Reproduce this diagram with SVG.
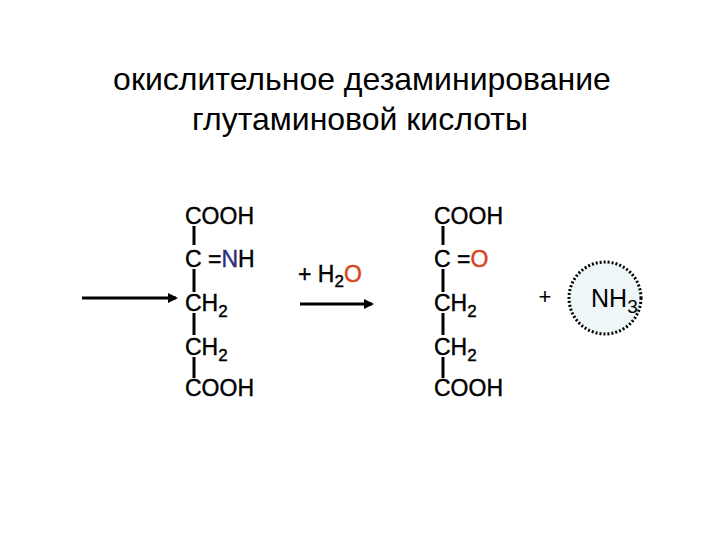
<svg xmlns="http://www.w3.org/2000/svg" width="720" height="540" viewBox="0 0 720 540">
<defs>
<style>
text{font-family:"Liberation Sans",Arial,sans-serif;fill:#000}
.t{font-size:32px}
.f{font-size:23px;stroke:#000;stroke-width:0.4}
.s{font-size:17px}
.b{stroke:#000;stroke-width:3}
</style>
<marker id="a" markerWidth="10" markerHeight="10" refX="8" refY="5" orient="auto" markerUnits="userSpaceOnUse"><path d="M0,0 L10,5 L0,10Z" fill="#000"/></marker>
</defs>
<rect width="720" height="540" fill="#fff"/>
<g id="title">
<text class="t" x="362" y="90" text-anchor="middle">окислительное дезаминирование</text>
<text class="t" x="360" y="130" text-anchor="middle">глутаминовой кислоты</text>
</g>
<g id="left">
<text class="f" x="185" y="224">COOH</text>
<text class="f" x="185" y="267">C =<tspan fill="#2b2f7e" stroke="#2b2f7e">N</tspan>H</text>
<text class="f" x="185" y="311">CH<tspan class="s" dy="6">2</tspan></text>
<text class="f" x="185" y="355">CH<tspan class="s" dy="6">2</tspan></text>
<text class="f" x="185" y="396">COOH</text>
<path class="b" d="M194 226V245M194 269V292M194 313V335M194 357V378"/>
</g>
<g id="right">
<text class="f" x="434" y="224">COOH</text>
<text class="f" x="434" y="267">C =<tspan fill="#d9421c" stroke="#d9421c">O</tspan></text>
<text class="f" x="434" y="311">CH<tspan class="s" dy="6">2</tspan></text>
<text class="f" x="434" y="355">CH<tspan class="s" dy="6">2</tspan></text>
<text class="f" x="434" y="396">COOH</text>
<path class="b" d="M443 226V245M443 269V292M443 313V335M443 357V378"/>
</g>
<g id="h2o">
<text class="f" x="298" y="282">+ H<tspan class="s" dy="5">2</tspan><tspan dy="-5" fill="#d9421c" stroke="#d9421c">O</tspan></text>
</g>
<g id="plus"><text x="545" y="304" font-size="22" text-anchor="middle">+</text></g>
<g id="nh3">
<circle cx="605" cy="298" r="36" fill="#eef6f8" stroke="#000" stroke-width="3" stroke-dasharray="2 2"/>
<text x="591" y="307" font-size="25" fill="#2b2f7e">N<tspan fill="#000">H</tspan><tspan fill="#000" font-size="19" dy="6">3</tspan></text>
</g>
<g id="connectors">
<line x1="82" y1="298" x2="176" y2="298" class="b" marker-end="url(#a)"/>
<line x1="300" y1="304" x2="372" y2="304" class="b" marker-end="url(#a)"/>
</g>
</svg>
